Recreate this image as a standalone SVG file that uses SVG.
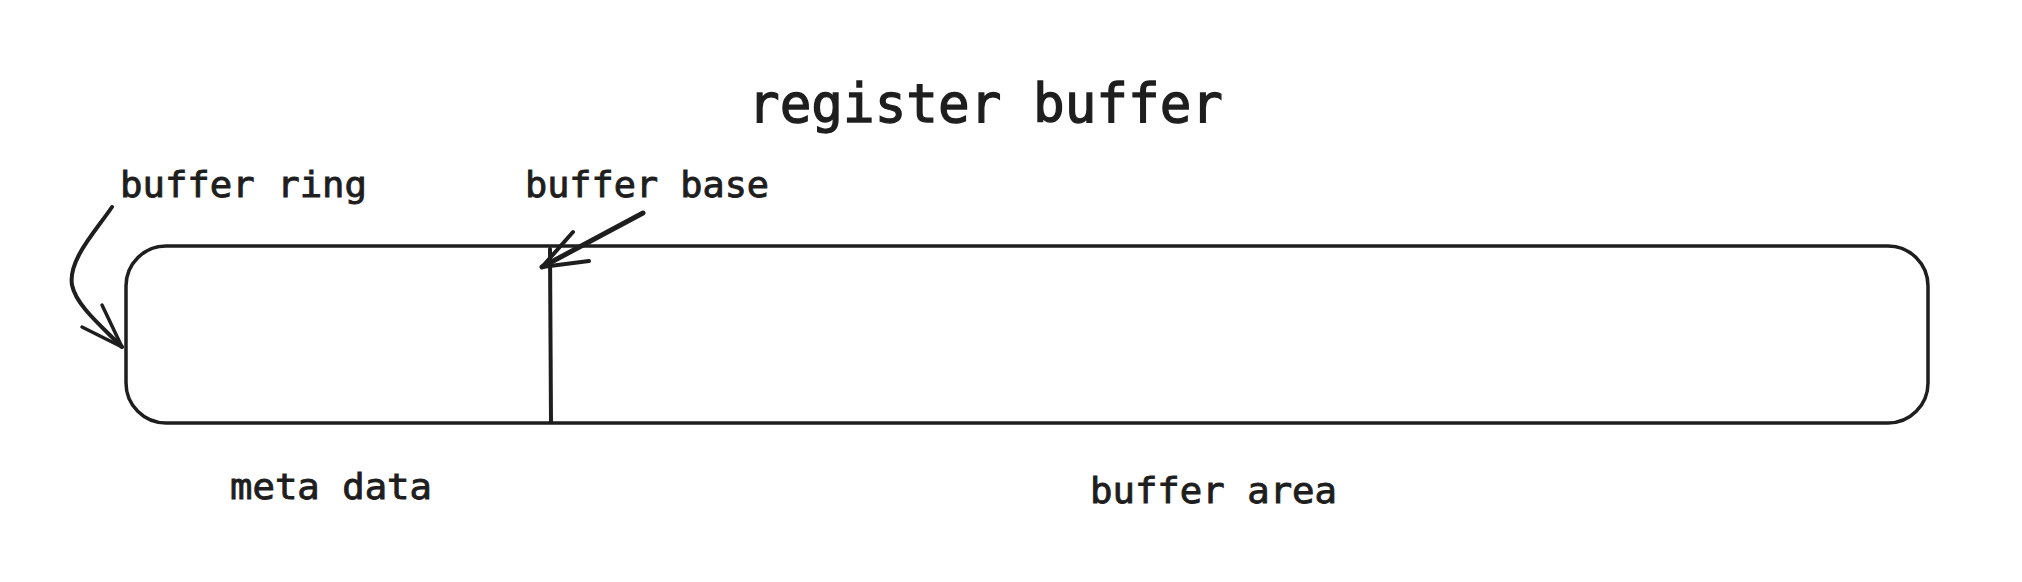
<svg xmlns="http://www.w3.org/2000/svg" width="2022" height="582" viewBox="0 0 2022 582">
<style>
.t{font-family:"DejaVu Sans Mono","Liberation Mono",monospace;fill:#1e1e1e;font-weight:normal;stroke:#1e1e1e;stroke-width:0.9}
.s{fill:none;stroke:#1e1e1e;stroke-linecap:round;stroke-linejoin:round}
</style>
<rect width="2022" height="582" fill="#ffffff"/>
<g id="title"><text class="t" x="748" y="122" font-size="53" textLength="475" lengthAdjust="spacingAndGlyphs" style="stroke-width:1.3">register buffer</text></g>
<g id="ring">
<rect class="s" x="126" y="246" width="1802" height="177" rx="40" ry="40" stroke-width="3.5"/>
<path class="s" d="M550 249 L551 422" stroke-width="4"/>
</g>
<g id="labels">
<text class="t" x="120" y="197" font-size="36" textLength="247" lengthAdjust="spacingAndGlyphs">buffer ring</text>
<text class="t" x="525" y="197" font-size="36" textLength="244" lengthAdjust="spacingAndGlyphs">buffer base</text>
<text class="t" x="230" y="499" font-size="36" textLength="202" lengthAdjust="spacingAndGlyphs">meta data</text>
<text class="t" x="1090" y="503" font-size="36" textLength="247" lengthAdjust="spacingAndGlyphs">buffer area</text>
</g>
<g id="connectors">
<path class="s" d="M112 207 C95 232 68 260 72 285 C76 305 100 325 122 347" stroke-width="4"/>
<path class="s" d="M102 305 L122 347 L82 327" stroke-width="3.5"/>
<path class="s" d="M643 213 L542 267" stroke-width="5"/>
<path class="s" d="M573 232 L542 267 L589 261" stroke-width="4"/>
</g>
</svg>
